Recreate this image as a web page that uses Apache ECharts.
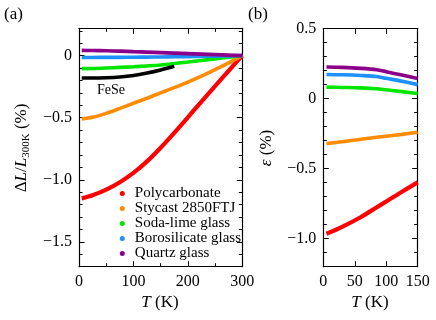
<!DOCTYPE html>
<html>
<head>
<meta charset="utf-8">
<script src="https://cdn.jsdelivr.net/npm/echarts@6/dist/echarts.min.js"></script>
<style>
  html, body { margin: 0; padding: 0; background: #fff; }
  #chart { width: 436px; height: 320px; }
</style>
</head>
<body>
<div id="chart"></div>
<script>
// ---- data ----
var names = ["Polycarbonate", "Stycast 2850FTJ", "Soda-lime glass", "Borosilicate glass", "Quartz glass"];
var colors = ["#ff0000", "#ff8c00", "#00e600", "#1e90ff", "#8b008b"];

// panel (a): ΔL/L300K vs T
var tempA = [5, 25, 50, 75, 100, 125, 150, 175, 200, 225, 250, 275, 300];
var polycarbA = [-1.15, -1.125, -1.08, -1.02, -0.945, -0.852, -0.742, -0.622, -0.497, -0.37, -0.245, -0.122, 0];
var stycastA = [-0.51, -0.497, -0.465, -0.425, -0.384, -0.343, -0.30, -0.258, -0.213, -0.165, -0.113, -0.058, 0];
var sodaA = [-0.105, -0.104, -0.10, -0.095, -0.09, -0.083, -0.075, -0.064, -0.052, -0.039, -0.026, -0.013, 0];
var boroA = [-0.015, -0.015, -0.014, -0.014, -0.013, -0.012, -0.011, -0.009, -0.008, -0.006, -0.004, -0.002, 0];
var quartzA = [0.042, 0.041, 0.039, 0.036, 0.032, 0.028, 0.024, 0.02, 0.016, 0.012, 0.008, 0.004, 0];
var tempFeSe = [5, 25, 50, 75, 100, 125, 150, 175];
var feseA = [-0.18, -0.18, -0.178, -0.172, -0.16, -0.14, -0.115, -0.085];

// panel (b): ε vs T
var tempB = [5, 30, 60, 85, 100, 125, 150];
var polycarbB = [-0.965, -0.915, -0.845, -0.775, -0.735, -0.665, -0.598];
var stycastB = [-0.32, -0.308, -0.29, -0.276, -0.268, -0.255, -0.24];
var sodaB = [0.082, 0.08, 0.077, 0.071, 0.063, 0.05, 0.036];
var boroB = [0.172, 0.17, 0.165, 0.158, 0.145, 0.124, 0.10];
var quartzB = [0.226, 0.223, 0.216, 0.206, 0.192, 0.168, 0.143];

// ticks
var xMajorA = [0, 100, 200, 300];
var xMinorA = [50, 150, 250];
var yMajorA = [-1.5, -1.0, -0.5, 0];
var yMinorA = [-1.6, -1.4, -1.3, -1.2, -1.1, -0.9, -0.8, -0.7, -0.6, -0.4, -0.3, -0.2, -0.1, 0.1, 0.2];
var xMajorB = [0, 50, 100, 150];
var yMajorB = [-1.0, -0.5, 0, 0.5];
var yMinorB = [-1.1, -0.9, -0.8, -0.7, -0.6, -0.4, -0.3, -0.2, -0.1, 0.1, 0.2, 0.3, 0.4];

var font = "Liberation Serif";

function pairs(xs, ys) {
  return xs.map(function (x, i) { return [x, ys[i]]; });
}

function fmtY(v) {
  if (v === 0) return "0";
  return (v < 0 ? "\u2212" : "") + Math.abs(v).toFixed(1);
}

// 4 axes per side: main (labels + major ticks), minor ticks, mirrored main, mirrored minor
function axesFor(isX, grid, min, max, majors, minors, fmt) {
  var pos = isX ? ["bottom", "top"] : ["left", "right"];
  var list = [];
  [0, 1].forEach(function (side) {
    list.push({
      type: "value", gridIndex: grid, position: pos[side], min: min, max: max,
      axisLine: { show: true, onZero: false, lineStyle: { color: "#000", width: 1.2 } },
      axisTick: { show: true, inside: true, length: 5.5, customValues: majors, lineStyle: { color: "#000", width: 1 } },
      axisLabel: {
        show: side === 0, customValues: majors, formatter: fmt, margin: 7,
        color: "#000", fontFamily: font, fontSize: 16
      },
      splitLine: { show: false }
    });
    list.push({
      type: "value", gridIndex: grid, position: pos[side], min: min, max: max,
      axisLine: { show: false, onZero: false },
      axisTick: { show: minors.length > 0, inside: true, length: 3.5, customValues: minors.length ? minors : [min], lineStyle: { color: "#000", width: 1 } },
      axisLabel: { show: false },
      splitLine: { show: false }
    });
  });
  return list;
}

var xAxes = axesFor(true, 0, 0, 300, xMajorA, xMinorA, function (v) { return String(v); })
  .concat(axesFor(true, 1, 0, 150, xMajorB, [], function (v) { return String(v); }));
var yAxes = axesFor(false, 0, -1.7, 0.22, yMajorA, yMinorA, fmtY)
  .concat(axesFor(false, 1, -1.2, 0.5, yMajorB, yMinorB, fmtY));

var seriesA = [polycarbA, stycastA, sodaA, boroA, quartzA];
var seriesB = [polycarbB, stycastB, sodaB, boroB, quartzB];
var widths = [4.2, 3.6, 3.6, 3.6, 3.6];

var series = [];
names.forEach(function (n, i) {
  series.push({
    name: n, type: "line", xAxisIndex: 0, yAxisIndex: 0, data: pairs(tempA, seriesA[i]),
    showSymbol: false, smooth: 0.3, color: colors[i], lineStyle: { width: widths[i], color: colors[i] }, z: 3 + i
  });
});
series.push({
  name: "FeSe", type: "line", xAxisIndex: 0, yAxisIndex: 0, data: pairs(tempFeSe, feseA),
  showSymbol: false, smooth: 0.3, color: "#000", lineStyle: { width: 3.6, color: "#000" }, z: 9
});
names.forEach(function (n, i) {
  series.push({
    name: n, type: "line", xAxisIndex: 4, yAxisIndex: 4, data: pairs(tempB, seriesB[i]),
    showSymbol: false, smooth: 0.3, color: colors[i], lineStyle: { width: widths[i], color: colors[i] }, z: 3 + i
  });
});

var chart = echarts.init(document.getElementById("chart"), null, { renderer: "canvas" });

var option = {
  animation: false,
  backgroundColor: "#fff",
  grid: [
    { left: 79, top: 28.3, width: 163.3, height: 238.4 },
    { left: 323.3, top: 28.6, width: 94.4, height: 238.1 }
  ],
  xAxis: xAxes,
  yAxis: yAxes,
  legend: {
    data: names, orient: "vertical", left: 114.8, top: 181,
    icon: "circle", itemWidth: 5, itemHeight: 5, itemGap: 0,
    textStyle: { fontFamily: font, fontSize: 15, lineHeight: 14.4, color: "#000", padding: [0, 0, 0, 5] }
  },
  graphic: [
    { type: "text", x: 4, y: 15, style: { text: "(a)", font: "17px " + font, fill: "#000", verticalAlign: "middle" } },
    { type: "text", x: 248, y: 15, style: { text: "(b)", font: "17px " + font, fill: "#000", verticalAlign: "middle" } },
    { type: "text", x: 97, y: 90, style: { text: "FeSe", font: "14px " + font, fill: "#000", verticalAlign: "middle" } },
    {
      type: "text", x: 160, y: 303,
      style: {
        text: "{i|T} (K)", font: "17px " + font, fill: "#000", align: "center", verticalAlign: "middle",
        rich: { i: { fontStyle: "italic", fontFamily: font, fontSize: 17 } }
      }
    },
    {
      type: "text", x: 370, y: 303,
      style: {
        text: "{i|T} (K)", font: "17px " + font, fill: "#000", align: "center", verticalAlign: "middle",
        rich: { i: { fontStyle: "italic", fontFamily: font, fontSize: 17 } }
      }
    },
    {
      type: "text", x: 22, y: 148, rotation: Math.PI / 2,
      style: {
        text: "\u0394{i|L}/{i|L}{s|300K} (%)", font: "17px " + font, fill: "#000", align: "center", verticalAlign: "middle",
        rich: {
          i: { fontStyle: "italic", fontFamily: font, fontSize: 17, lineHeight: 20 },
          s: { fontFamily: font, fontSize: 11, lineHeight: 11, verticalAlign: "bottom" }
        }
      }
    },
    {
      type: "text", x: 267, y: 148, rotation: Math.PI / 2,
      style: {
        text: "{i|\u03b5} (%)", font: "17px " + font, fill: "#000", align: "center", verticalAlign: "middle",
        rich: { i: { fontStyle: "italic", fontFamily: font, fontSize: 17 } }
      }
    }
  ],
  series: series
};

window.onresize = chart.resize;
chart.setOption(option);
</script>
</body>
</html>
